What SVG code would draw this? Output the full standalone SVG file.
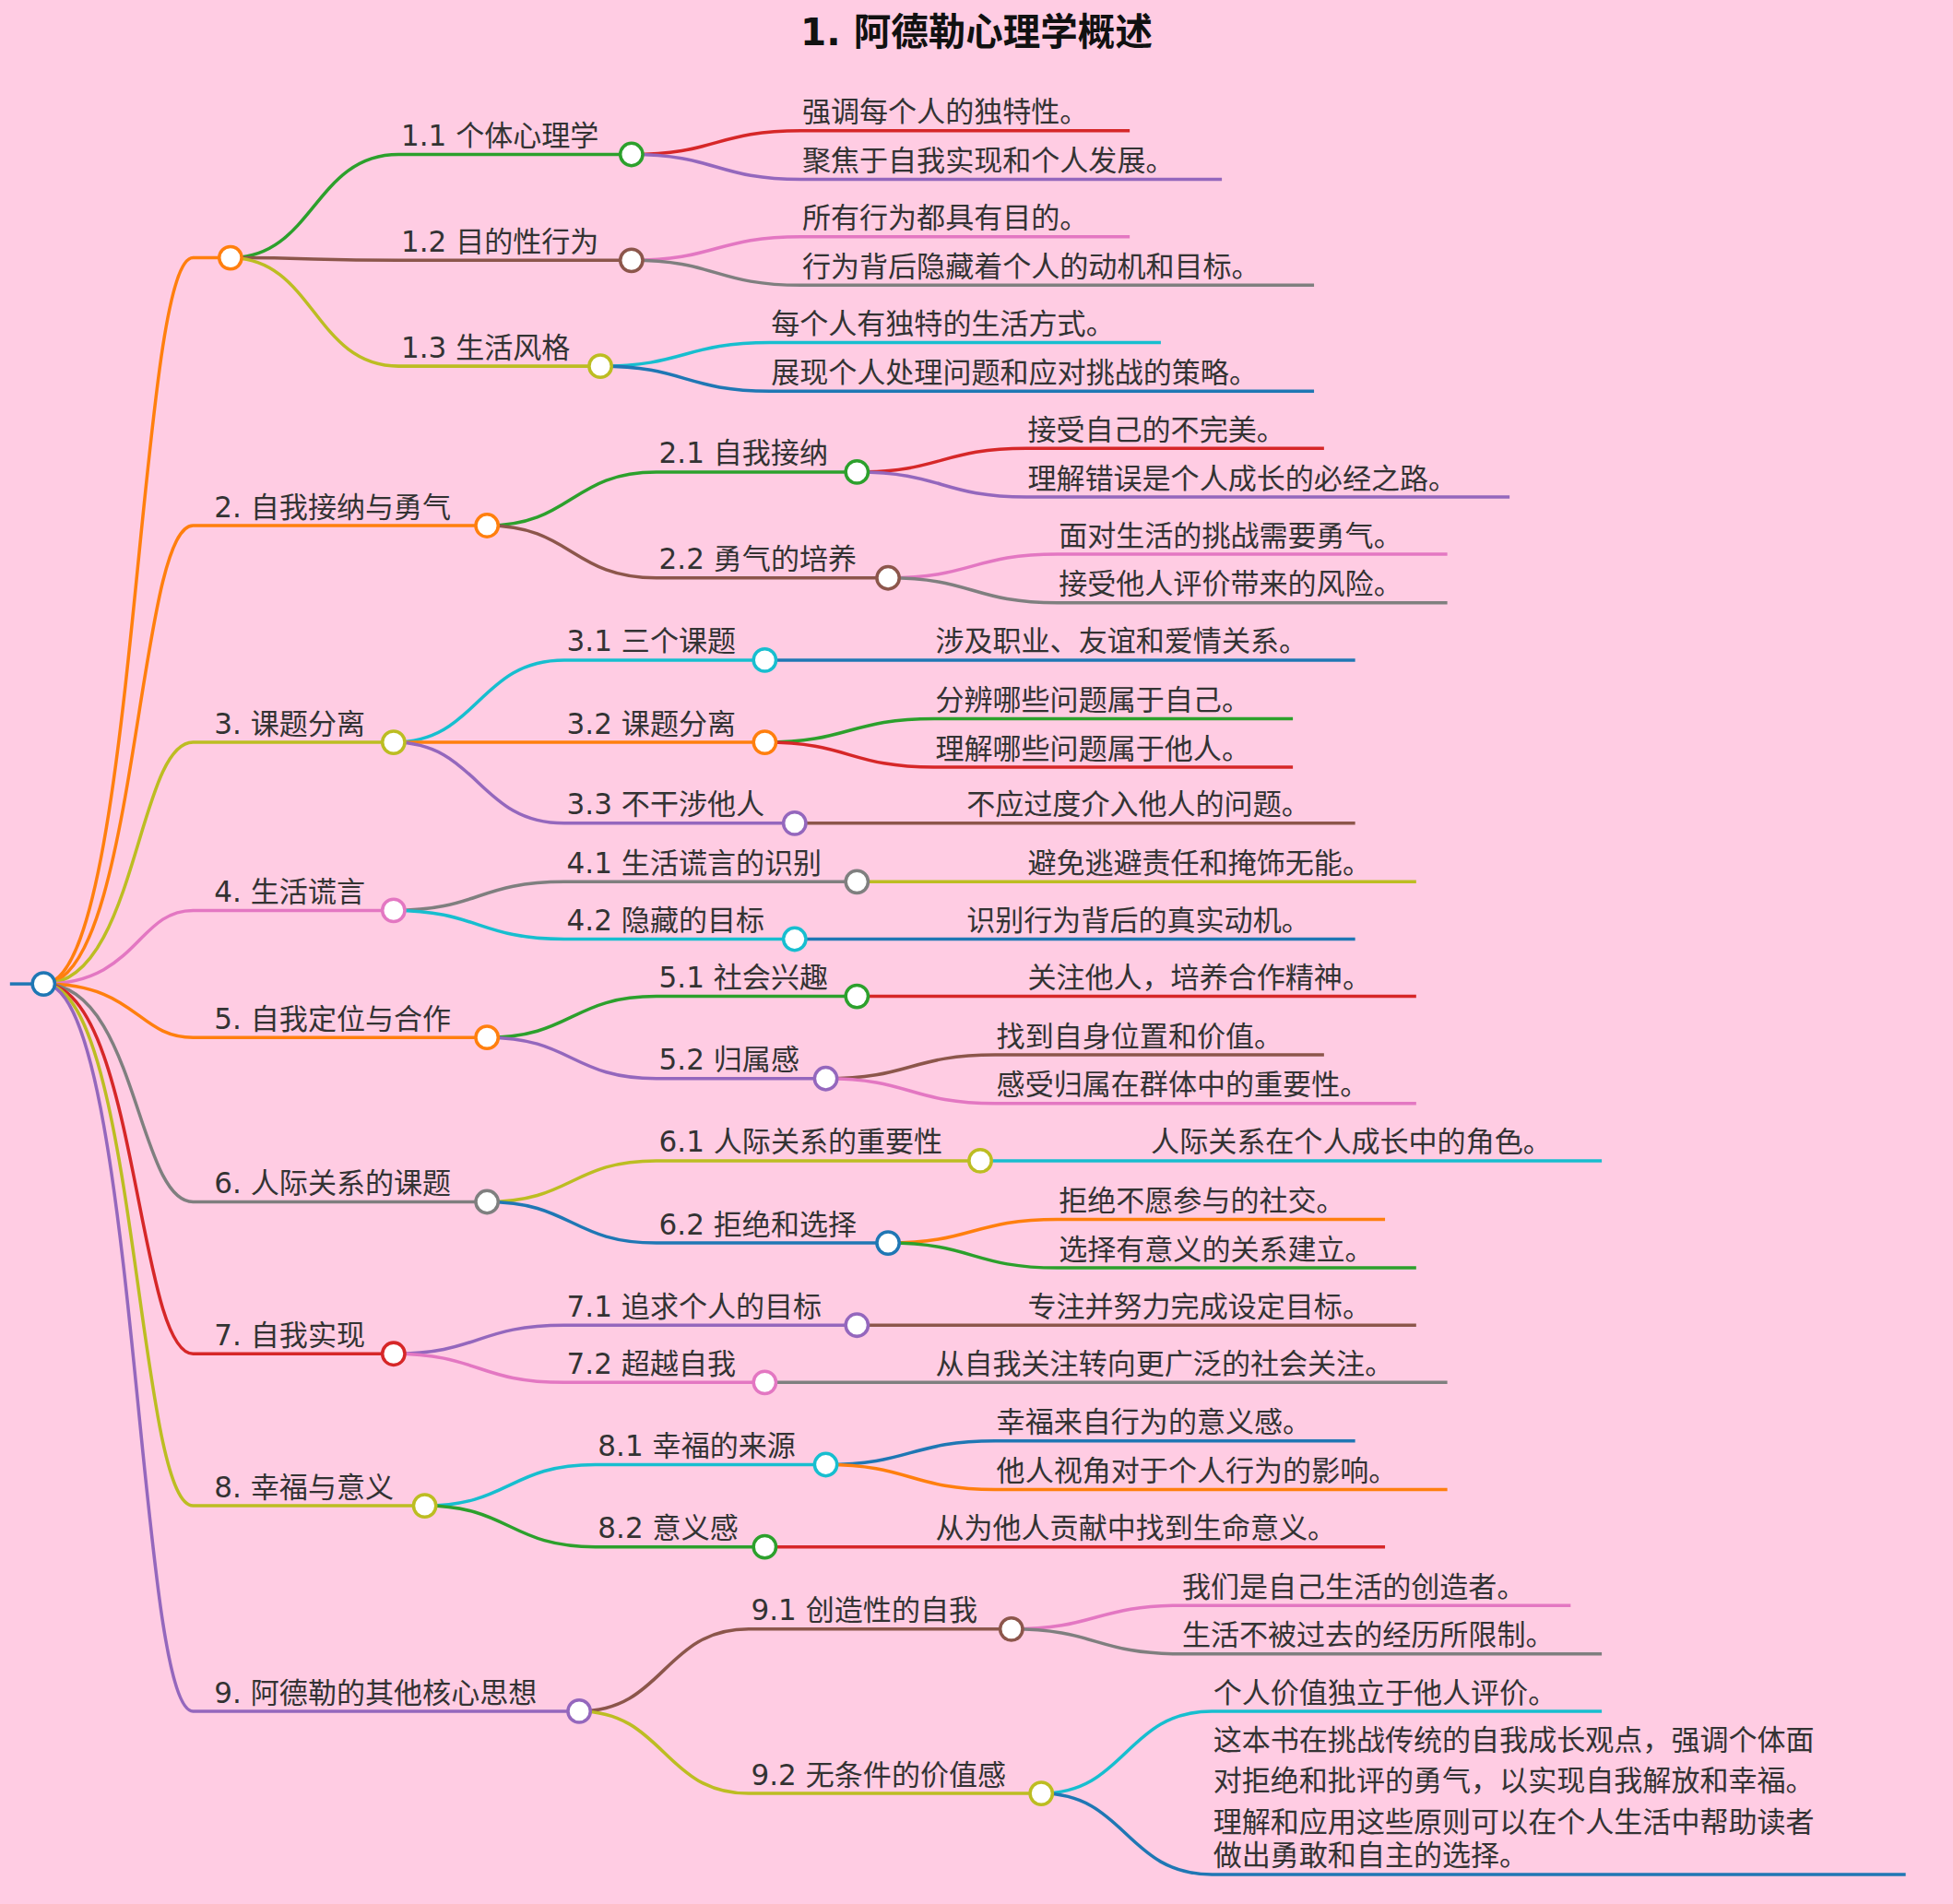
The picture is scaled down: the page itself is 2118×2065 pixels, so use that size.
<svg xmlns="http://www.w3.org/2000/svg" width="2118" height="2065" viewBox="0 0 2118 2065">
<style>
.e{fill:none;stroke-width:2.6}
.t{font-family:"DejaVu Sans","Noto Sans CJK SC",sans-serif;font-size:23px;fill:#333}
.c{fill:#fff;stroke-width:2.6}
.ti{font-family:"DejaVu Sans","Noto Sans CJK SC",sans-serif;font-size:30px;font-weight:bold;fill:#111}
</style>
<rect width="2118" height="2065" fill="#ffcce3"/>
<g transform="scale(1.35077)">
<text class="ti" x="784" y="36" text-anchor="middle">1. 阿德勒心理学概述</text>
<g id="connectors">
<path class="e" stroke="#1f77b4" d="M8 790H26"/>
<path class="e" stroke="#ff7f0e" d="M35 790C110 790 110 207 155 207H176"/>
<path class="e" stroke="#ff7f0e" d="M35 790C110 790 110 422 155 422H382"/>
<path class="e" stroke="#bcbd22" d="M35 790C110 790 110 596 155 596H307"/>
<path class="e" stroke="#e377c2" d="M35 790C110 790 110 731 155 731H307"/>
<path class="e" stroke="#ff7f0e" d="M35 790C110 790 110 833 155 833H382"/>
<path class="e" stroke="#7f7f7f" d="M35 790C110 790 110 965 155 965H382"/>
<path class="e" stroke="#d62728" d="M35 790C110 790 110 1087 155 1087H307"/>
<path class="e" stroke="#bcbd22" d="M35 790C110 790 110 1209 155 1209H332"/>
<path class="e" stroke="#9467bd" d="M35 790C110 790 110 1374 155 1374H456"/>
<!-- level 2 -->
<path class="e" stroke="#2ca02c" d="M185 207C252 207 252 124 320 124H498"/>
<path class="e" stroke="#8c564b" d="M185 207C252 207 252 209 320 209H498"/>
<path class="e" stroke="#bcbd22" d="M185 207C252 207 252 294 320 294H473"/>
<path class="e" stroke="#2ca02c" d="M391 422C459 422 459 379 527 379H679"/>
<path class="e" stroke="#8c564b" d="M391 422C459 422 459 464 527 464H704"/>
<path class="e" stroke="#17becf" d="M316 596C384 596 384 530 453 530H605"/>
<path class="e" stroke="#ff7f0e" d="M316 596C384 596 384 596 453 596H605"/>
<path class="e" stroke="#9467bd" d="M316 596C384 596 384 661 453 661H629"/>
<path class="e" stroke="#7f7f7f" d="M316 731C384 731 384 708 453 708H679"/>
<path class="e" stroke="#17becf" d="M316 731C384 731 384 754 453 754H629"/>
<path class="e" stroke="#2ca02c" d="M391 833C459 833 459 800 527 800H679"/>
<path class="e" stroke="#9467bd" d="M391 833C459 833 459 866 527 866H654"/>
<path class="e" stroke="#bcbd22" d="M391 965C459 965 459 932 527 932H778"/>
<path class="e" stroke="#1f77b4" d="M391 965C459 965 459 998 527 998H704"/>
<path class="e" stroke="#9467bd" d="M316 1087C384 1087 384 1064 453 1064H679"/>
<path class="e" stroke="#e377c2" d="M316 1087C384 1087 384 1110 453 1110H605"/>
<path class="e" stroke="#17becf" d="M341 1209C409 1209 409 1176 478 1176H654"/>
<path class="e" stroke="#2ca02c" d="M341 1209C409 1209 409 1242 478 1242H605"/>
<path class="e" stroke="#8c564b" d="M465 1374C533 1374 533 1308 601 1308H803"/>
<path class="e" stroke="#bcbd22" d="M465 1374C533 1374 533 1440 601 1440H827"/>
<!-- leaves -->
<path class="e" stroke="#d62728" d="M507 124C575 124 575 105 643 105H907"/>
<path class="e" stroke="#9467bd" d="M507 124C575 124 575 144 643 144H981"/>
<path class="e" stroke="#e377c2" d="M507 209C575 209 575 190 643 190H907"/>
<path class="e" stroke="#7f7f7f" d="M507 209C575 209 575 229 643 229H1055"/>
<path class="e" stroke="#17becf" d="M482 294C550 294 550 275 618 275H932"/>
<path class="e" stroke="#1f77b4" d="M482 294C550 294 550 314 618 314H1055"/>
<path class="e" stroke="#d62728" d="M688 379C756 379 756 360 824 360H1063"/>
<path class="e" stroke="#9467bd" d="M688 379C756 379 756 399 824 399H1212"/>
<path class="e" stroke="#e377c2" d="M713 464C781 464 781 445 849 445H1162"/>
<path class="e" stroke="#7f7f7f" d="M713 464C781 464 781 484 849 484H1162"/>
<path class="e" stroke="#1f77b4" d="M614 530H1088"/>
<path class="e" stroke="#2ca02c" d="M614 596C682 596 682 577 750 577H1038"/>
<path class="e" stroke="#d62728" d="M614 596C682 596 682 616 750 616H1038"/>
<path class="e" stroke="#8c564b" d="M638 661H1088"/>
<path class="e" stroke="#bcbd22" d="M688 708H1137"/>
<path class="e" stroke="#1f77b4" d="M638 754H1088"/>
<path class="e" stroke="#d62728" d="M688 800H1137"/>
<path class="e" stroke="#8c564b" d="M663 866C731 866 731 847 799 847H1063"/>
<path class="e" stroke="#e377c2" d="M663 866C731 866 731 886 799 886H1137"/>
<path class="e" stroke="#17becf" d="M787 932H1286"/>
<path class="e" stroke="#ff7f0e" d="M713 998C781 998 781 979 849 979H1112"/>
<path class="e" stroke="#2ca02c" d="M713 998C781 998 781 1018 849 1018H1137"/>
<path class="e" stroke="#8c564b" d="M688 1064H1137"/>
<path class="e" stroke="#7f7f7f" d="M614 1110H1162"/>
<path class="e" stroke="#1f77b4" d="M663 1176C731 1176 731 1157 799 1157H1088"/>
<path class="e" stroke="#ff7f0e" d="M663 1176C731 1176 731 1196 799 1196H1162"/>
<path class="e" stroke="#d62728" d="M614 1242H1112"/>
<path class="e" stroke="#e377c2" d="M812 1308C880 1308 880 1289 948 1289H1261"/>
<path class="e" stroke="#7f7f7f" d="M812 1308C880 1308 880 1328 948 1328H1286"/>
<path class="e" stroke="#17becf" d="M836 1440C904 1440 904 1374 973 1374H1286"/>
<path class="e" stroke="#1f77b4" d="M836 1440C904 1440 904 1505 973 1505H1530"/>
</g>
<g id="root"><circle class="c" stroke="#1f77b4" cx="35" cy="790" r="9"/></g>
<g id="n1"><circle class="c" stroke="#ff7f0e" cx="185" cy="207" r="9"/></g>
<g id="n1-1"><text class="t" x="322" y="117">1.1 个体心理学</text><circle class="c" stroke="#2ca02c" cx="507" cy="124" r="9"/></g>
<g id="n1-2"><text class="t" x="322" y="202">1.2 目的性行为</text><circle class="c" stroke="#8c564b" cx="507" cy="209" r="9"/></g>
<g id="n1-3"><text class="t" x="322" y="287">1.3 生活风格</text><circle class="c" stroke="#bcbd22" cx="482" cy="294" r="9"/></g>
<g id="n2"><text class="t" x="172" y="415">2. 自我接纳与勇气</text><circle class="c" stroke="#ff7f0e" cx="391" cy="422" r="9"/></g>
<g id="n2-1"><text class="t" x="529" y="372">2.1 自我接纳</text><circle class="c" stroke="#2ca02c" cx="688" cy="379" r="9"/></g>
<g id="n2-2"><text class="t" x="529" y="457">2.2 勇气的培养</text><circle class="c" stroke="#8c564b" cx="713" cy="464" r="9"/></g>
<g id="n3"><text class="t" x="172" y="589">3. 课题分离</text><circle class="c" stroke="#bcbd22" cx="316" cy="596" r="9"/></g>
<g id="n3-1"><text class="t" x="455" y="523">3.1 三个课题</text><circle class="c" stroke="#17becf" cx="614" cy="530" r="9"/></g>
<g id="n3-2"><text class="t" x="455" y="589">3.2 课题分离</text><circle class="c" stroke="#ff7f0e" cx="614" cy="596" r="9"/></g>
<g id="n3-3"><text class="t" x="455" y="654">3.3 不干涉他人</text><circle class="c" stroke="#9467bd" cx="638" cy="661" r="9"/></g>
<g id="n4"><text class="t" x="172" y="724">4. 生活谎言</text><circle class="c" stroke="#e377c2" cx="316" cy="731" r="9"/></g>
<g id="n4-1"><text class="t" x="455" y="701">4.1 生活谎言的识别</text><circle class="c" stroke="#7f7f7f" cx="688" cy="708" r="9"/></g>
<g id="n4-2"><text class="t" x="455" y="747">4.2 隐藏的目标</text><circle class="c" stroke="#17becf" cx="638" cy="754" r="9"/></g>
<g id="n5"><text class="t" x="172" y="826">5. 自我定位与合作</text><circle class="c" stroke="#ff7f0e" cx="391" cy="833" r="9"/></g>
<g id="n5-1"><text class="t" x="529" y="793">5.1 社会兴趣</text><circle class="c" stroke="#2ca02c" cx="688" cy="800" r="9"/></g>
<g id="n5-2"><text class="t" x="529" y="859">5.2 归属感</text><circle class="c" stroke="#9467bd" cx="663" cy="866" r="9"/></g>
<g id="n6"><text class="t" x="172" y="958">6. 人际关系的课题</text><circle class="c" stroke="#7f7f7f" cx="391" cy="965" r="9"/></g>
<g id="n6-1"><text class="t" x="529" y="925">6.1 人际关系的重要性</text><circle class="c" stroke="#bcbd22" cx="787" cy="932" r="9"/></g>
<g id="n6-2"><text class="t" x="529" y="991">6.2 拒绝和选择</text><circle class="c" stroke="#1f77b4" cx="713" cy="998" r="9"/></g>
<g id="n7"><text class="t" x="172" y="1080">7. 自我实现</text><circle class="c" stroke="#d62728" cx="316" cy="1087" r="9"/></g>
<g id="n7-1"><text class="t" x="455" y="1057">7.1 追求个人的目标</text><circle class="c" stroke="#9467bd" cx="688" cy="1064" r="9"/></g>
<g id="n7-2"><text class="t" x="455" y="1103">7.2 超越自我</text><circle class="c" stroke="#e377c2" cx="614" cy="1110" r="9"/></g>
<g id="n8"><text class="t" x="172" y="1202">8. 幸福与意义</text><circle class="c" stroke="#bcbd22" cx="341" cy="1209" r="9"/></g>
<g id="n8-1"><text class="t" x="480" y="1169">8.1 幸福的来源</text><circle class="c" stroke="#17becf" cx="663" cy="1176" r="9"/></g>
<g id="n8-2"><text class="t" x="480" y="1235">8.2 意义感</text><circle class="c" stroke="#2ca02c" cx="614" cy="1242" r="9"/></g>
<g id="n9"><text class="t" x="172" y="1367">9. 阿德勒的其他核心思想</text><circle class="c" stroke="#9467bd" cx="465" cy="1374" r="9"/></g>
<g id="n9-1"><text class="t" x="603" y="1301">9.1 创造性的自我</text><circle class="c" stroke="#8c564b" cx="812" cy="1308" r="9"/></g>
<g id="n9-2"><text class="t" x="603" y="1433">9.2 无条件的价值感</text><circle class="c" stroke="#bcbd22" cx="836" cy="1440" r="9"/></g>
<g id="leaves" class="t">
<text x="644" y="98">强调每个人的独特性。</text>
<text x="644" y="137">聚焦于自我实现和个人发展。</text>
<text x="644" y="183">所有行为都具有目的。</text>
<text x="644" y="222">行为背后隐藏着个人的动机和目标。</text>
<text x="619" y="268">每个人有独特的生活方式。</text>
<text x="619" y="307">展现个人处理问题和应对挑战的策略。</text>
<text x="825" y="353">接受自己的不完美。</text>
<text x="825" y="392">理解错误是个人成长的必经之路。</text>
<text x="850" y="438">面对生活的挑战需要勇气。</text>
<text x="850" y="477">接受他人评价带来的风险。</text>
<text x="751" y="523">涉及职业、友谊和爱情关系。</text>
<text x="751" y="570">分辨哪些问题属于自己。</text>
<text x="751" y="609">理解哪些问题属于他人。</text>
<text x="776" y="654">不应过度介入他人的问题。</text>
<text x="825" y="701">避免逃避责任和掩饰无能。</text>
<text x="776" y="747">识别行为背后的真实动机。</text>
<text x="825" y="793">关注他人，培养合作精神。</text>
<text x="800" y="840">找到自身位置和价值。</text>
<text x="800" y="879">感受归属在群体中的重要性。</text>
<text x="924" y="925">人际关系在个人成长中的角色。</text>
<text x="850" y="972">拒绝不愿参与的社交。</text>
<text x="850" y="1011">选择有意义的关系建立。</text>
<text x="825" y="1057">专注并努力完成设定目标。</text>
<text x="751" y="1103">从自我关注转向更广泛的社会关注。</text>
<text x="800" y="1150">幸福来自行为的意义感。</text>
<text x="800" y="1189">他人视角对于个人行为的影响。</text>
<text x="751" y="1235">从为他人贡献中找到生命意义。</text>
<text x="949" y="1282">我们是自己生活的创造者。</text>
<text x="949" y="1321">生活不被过去的经历所限制。</text>
<text x="974" y="1367">个人价值独立于他人评价。</text>
<text x="974" y="1405">这本书在挑战传统的自我成长观点，强调个体面</text>
<text x="974" y="1438">对拒绝和批评的勇气，以实现自我解放和幸福。</text>
<text x="974" y="1471">理解和应用这些原则可以在个人生活中帮助读者</text>
<text x="974" y="1498">做出勇敢和自主的选择。</text>
</g>
</g>
</svg>
